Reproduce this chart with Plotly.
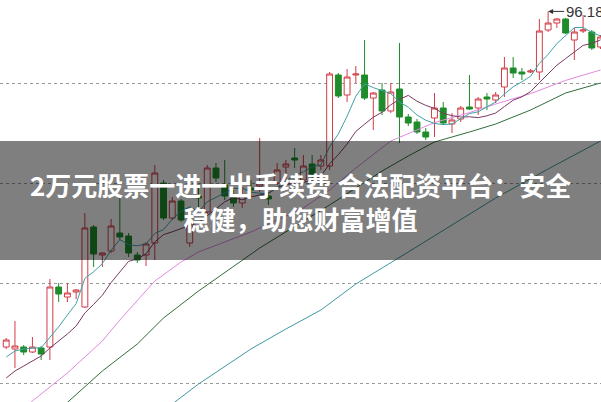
import plotly.graph_objects as go

# ---- data (prices) ----
idx = list(range(69))
open_ = [79.40, 79.30, 79.40, 79.15, 79.35, 79.40, 82.40, 81.90, 82.15, 81.40,
         85.40, 84.00, 84.20, 85.10, 84.95, 84.00, 84.00, 84.60, 87.60, 85.85,
         86.70, 84.60, 86.95, 86.15, 88.35, 87.50, 86.90, 86.60, 87.35, 87.45,
         86.95, 87.60, 88.40, 88.85, 87.75, 88.55, 88.45, 88.45, 93.00, 92.00,
         93.00, 93.00, 91.85, 92.25, 91.20, 92.30, 90.90, 90.65, 90.15, 90.85,
         91.35, 90.55, 90.80, 91.40, 91.35, 91.90, 91.75, 92.40, 93.35, 93.15,
         93.15, 93.15, 95.25, 95.60, 95.80, 94.75, 95.20, 95.15, 94.40]
high_ = [79.85, 80.70, 79.50, 79.90, 79.45, 82.80, 82.60, 82.60, 82.30, 86.10,
         85.50, 84.15, 85.80, 87.00, 85.10, 84.15, 84.65, 88.50, 87.75, 86.90,
         86.80, 86.30, 87.50, 88.50, 88.60, 88.75, 87.25, 87.40, 87.75, 89.85,
         87.15, 88.60, 88.75, 89.35, 89.00, 89.00, 89.00, 93.15, 93.10, 93.30,
         93.45, 94.75, 92.15, 92.60, 92.60, 94.60, 91.05, 90.80, 90.35, 92.10,
         91.65, 91.10, 91.45, 93.00, 91.90, 92.10, 92.15, 93.90, 93.90, 93.35,
         93.30, 95.80, 96.18, 95.85, 95.85, 95.35, 96.00, 95.25, 95.00]
low_ = [79.30, 78.35, 79.00, 79.10, 78.75, 78.75, 81.65, 81.65, 81.80, 81.35,
        83.40, 83.40, 84.10, 84.75, 83.90, 83.60, 83.45, 83.75, 85.75, 85.75,
        85.65, 84.40, 86.40, 86.05, 87.65, 86.75, 86.40, 86.35, 86.90, 87.15,
        86.50, 87.50, 87.75, 88.35, 87.65, 87.85, 88.25, 88.25, 91.85, 91.65,
        92.60, 91.75, 90.25, 91.00, 91.10, 89.60, 90.45, 90.05, 89.75, 89.90,
        90.50, 90.10, 90.65, 91.25, 91.00, 91.25, 91.60, 91.90, 92.85, 92.75,
        93.10, 92.75, 95.15, 95.35, 95.05, 93.75, 95.10, 94.25, 94.30]
close_ = [79.75, 79.45, 79.15, 79.40, 79.05, 82.40, 82.05, 82.10, 82.25, 85.35,
          84.05, 84.10, 85.45, 84.90, 84.10, 83.75, 84.55, 88.10, 85.85, 86.70,
          85.75, 85.65, 86.85, 88.35, 87.85, 86.95, 86.60, 87.00, 87.25, 87.60,
          86.80, 88.25, 88.55, 88.75, 88.45, 88.05, 88.75, 93.05, 91.95, 92.90,
          93.05, 91.85, 92.10, 91.20, 92.15, 90.90, 90.60, 90.15, 89.90, 91.35,
          90.60, 90.75, 91.35, 91.30, 91.80, 91.80, 92.00, 93.35, 93.10, 93.05,
          93.20, 95.20, 95.60, 95.80, 95.10, 95.15, 95.25, 94.35, 94.90]

ma5 = [78.90, 79.20, 79.30, 79.35, 79.36, 79.89, 80.41, 81.00, 81.57, 82.83,
       83.16, 83.57, 84.24, 84.77, 84.52, 84.46, 84.55, 85.08, 85.27, 85.79,
       86.19, 86.41, 86.16, 86.66, 86.89, 87.13, 87.32, 87.35, 87.14, 87.09,
       87.06, 87.39, 87.70, 87.99, 88.16, 88.41, 88.51, 89.41, 90.05, 90.94,
       91.94, 92.56, 92.37, 92.22, 92.07, 91.64, 91.39, 91.00, 90.74, 90.58,
       90.52, 90.55, 90.79, 91.07, 91.16, 91.40, 91.65, 92.05, 92.41, 92.66,
       92.94, 93.58, 94.03, 94.57, 94.98, 95.37, 95.38, 95.13, 94.95]
ma10 = [77.85, 78.20, 78.45, 78.70, 78.95, 79.35, 79.70, 80.05, 80.45, 81.10,
        81.53, 81.99, 82.62, 83.17, 83.68, 83.81, 84.06, 84.66, 85.02, 85.16,
        85.33, 85.48, 85.62, 85.97, 86.34, 86.66, 86.87, 86.76, 86.90, 86.99,
        87.10, 87.36, 87.53, 87.57, 87.63, 87.74, 87.95, 88.56, 89.02, 89.55,
        90.18, 90.54, 90.89, 91.14, 91.51, 91.79, 91.98, 91.69, 91.48, 91.33,
        91.08, 90.97, 90.90, 90.91, 90.87, 90.96, 91.10, 91.42, 91.74, 91.91,
        92.17, 92.62, 93.04, 93.49, 93.82, 94.16, 94.48, 94.58, 94.76]
ma20_x = [0, 3, 7, 11, 13, 15, 17, 20, 22, 28, 34, 37, 40, 44, 49, 53, 56, 60, 64, 68]
ma20 = [75.55, 76.70, 78.10, 79.70, 80.75, 81.70, 82.70, 83.65, 84.15, 85.15,
        86.35, 87.25, 88.35, 89.70, 90.62, 91.12, 91.55, 92.07, 92.73, 93.25]
ma60_x = [4, 7, 11, 15, 18, 22, 29, 37, 43, 46, 49, 53, 56, 60, 64, 68]
ma60 = [75.45, 76.65, 78.20, 79.55, 80.85, 82.20, 84.35, 86.50, 88.20, 88.95,
        89.65, 90.15, 90.55, 91.25, 92.10, 92.60]
ma120_x = [16, 19, 22, 28, 32, 36, 40, 44, 46, 51, 56, 62, 68]
ma120 = [75.45, 76.55, 77.55, 79.30, 80.30, 81.25, 82.55, 83.60, 84.15, 85.50,
         86.85, 88.30, 89.70]
grid_levels = [92.6, 87.6, 82.6, 77.6]
peak_label = "96.18"
banner_text = "2万元股票一进一出手续费 合法配资平台：安全<br>稳健，助您财富增值"

RED = "#d23c46"
GREEN = "#1e8c2a"

fig = go.Figure()
fig.add_trace(go.Scatter(x=ma120_x, y=ma120, mode="lines",
                         line=dict(color="#3f9aa2", width=1), hoverinfo="skip"))
fig.add_trace(go.Scatter(x=ma60_x, y=ma60, mode="lines",
                         line=dict(color="#2f6e3a", width=1), hoverinfo="skip"))
fig.add_trace(go.Scatter(x=ma20_x, y=ma20, mode="lines",
                         line=dict(color="#e08ae0", width=1), hoverinfo="skip"))
fig.add_trace(go.Scatter(x=idx, y=ma10, mode="lines",
                         line=dict(color="#7c3a62", width=1), hoverinfo="skip"))
fig.add_trace(go.Scatter(x=idx, y=ma5, mode="lines",
                         line=dict(color="#3fa2a8", width=1), hoverinfo="skip"))
fig.add_trace(go.Candlestick(
    x=idx, open=open_, high=high_, low=low_, close=close_,
    increasing=dict(line=dict(color=RED, width=1), fillcolor="#ffffff"),
    decreasing=dict(line=dict(color=GREEN, width=1), fillcolor=GREEN),
    whiskerwidth=0,
))

fig.add_annotation(x=62, y=96.18, text=peak_label, showarrow=True,
                   ax=16, ay=0, xanchor="left", arrowhead=2, arrowsize=1,
                   arrowwidth=1, arrowcolor="#333333", standoff=0,
                   font=dict(family="Liberation Sans, Arial", size=15, color="#333333"))

# grey banner with headline
fig.add_shape(type="rect", xref="paper", yref="paper", x0=0, x1=1,
              y0=0.3532, y1=0.6493, fillcolor="rgba(0,0,0,0.5)",
              line=dict(width=0), layer="above")
fig.add_annotation(xref="paper", yref="paper", x=0.5, y=0.5,
                   xanchor="center", yanchor="middle", showarrow=False,
                   text="<b>" + banner_text + "</b>", align="center",
                   font=dict(family="Noto Sans CJK SC", size=26, color="#ffffff"))

fig.update_layout(
    width=601, height=402, margin=dict(l=0, r=0, t=0, b=0),
    paper_bgcolor="white", plot_bgcolor="white", showlegend=False,
    boxgap=0.33, boxgroupgap=0,
    xaxis=dict(range=[-0.71, 68.05], visible=False, rangeslider=dict(visible=False),
               showgrid=False, zeroline=False),
    yaxis=dict(range=[76.65, 96.75], tickvals=grid_levels, showticklabels=False,
               showgrid=True, gridcolor="#9a9a9a", griddash="dot", gridwidth=1,
               zeroline=False, showline=False, ticks=""),
)
fig.write_html("out.html",
               config={"displayModeBar": False, "staticPlot": True},
               post_script="document.body.style.margin='0';document.body.style.overflow='hidden';")
